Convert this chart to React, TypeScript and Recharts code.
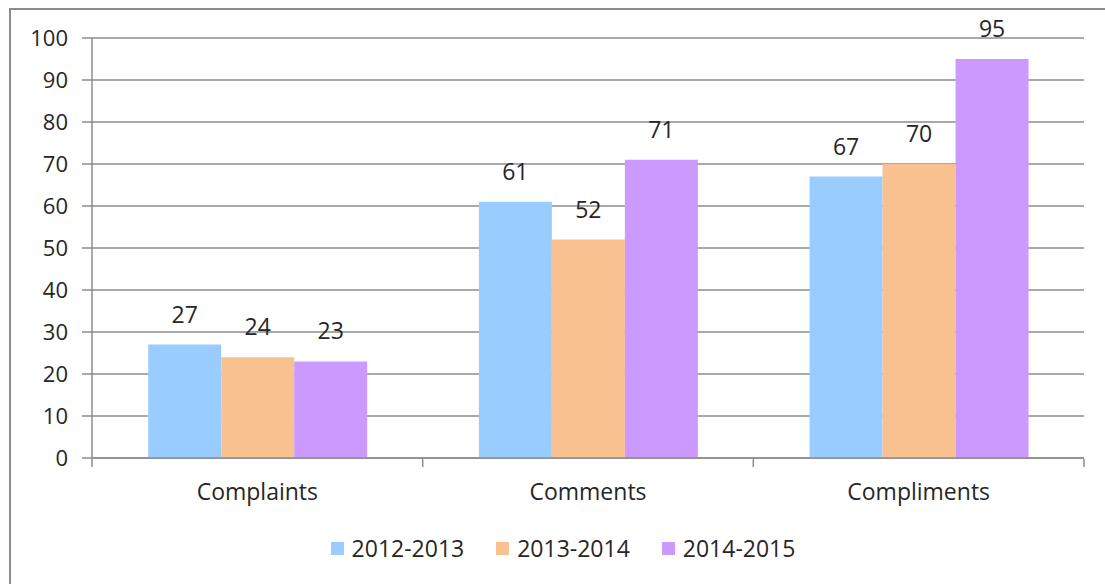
import { Bar, BarChart, CartesianGrid, LabelList, Legend, XAxis, YAxis } from "recharts";

const categories = ["Complaints", "Comments", "Compliments"];
const seriesNames = ["2012-2013", "2013-2014", "2014-2015"];
const values2012 = [27, 61, 67];
const values2013 = [24, 52, 70];
const values2014 = [23, 71, 95];
const yTicks = [0, 10, 20, 30, 40, 50, 60, 70, 80, 90, 100];
const edgeTicks = [0, 1, 2, 3];
const colors = ["#99CCFF", "#F9C090", "#CC99FF"];

const data = categories.map((name, i) => ({
  name,
  edge: i,
  [seriesNames[0]]: values2012[i],
  [seriesNames[1]]: values2013[i],
  [seriesNames[2]]: values2014[i],
}));

const FONT = "'Open Sans', 'Liberation Sans', sans-serif";
const GRID = "#8c8c8c";
const TEXT = "#262626";

function LegendRow() {
  return (
    <div style={{ display: "flex", justifyContent: "center", alignItems: "center", height: 30, paddingLeft: 42, fontFamily: FONT, fontSize: 23, color: TEXT }}>
      {seriesNames.map((s, i) => (
        <div key={s} style={{ display: "flex", alignItems: "center", marginLeft: i === 0 ? 0 : 32 }}>
          <span style={{ width: 13, height: 13, background: colors[i], display: "inline-block", marginRight: 8 }} />
          <span>{s}</span>
        </div>
      ))}
    </div>
  );
}

export default function App() {
  return (
    <div style={{ position: "absolute", left: 0, top: 0, width: 1105, height: 584, overflow: "hidden", background: "#fff" }}>
      <div style={{ position: "absolute", left: 9, top: 8, width: 1200, height: 700, borderTop: `2px solid ${GRID}`, borderLeft: `2px solid ${GRID}` }} />
      <div style={{ position: "absolute", left: 0, top: 0 }}>
        <BarChart width={1105} height={584} data={data} margin={{ top: 38, right: 21, bottom: 21, left: 0 }} barCategoryGap="17%" barGap={0}>
          <CartesianGrid vertical={false} stroke={GRID} strokeWidth={1.5} />
          <XAxis
            dataKey="name"
            height={1}
            tickLine={false}
            tickSize={0}
            tickMargin={26}
            axisLine={{ stroke: GRID, strokeWidth: 1.5 }}
            tick={{ fill: TEXT, fontSize: 23, fontFamily: FONT }}
          />
          <XAxis
            xAxisId="edges"
            dataKey="edge"
            type="number"
            domain={[0, 3]}
            ticks={edgeTicks}
            interval={0}
            height={74}
            axisLine={false}
            tickSize={8}
            tickFormatter={() => ""}
            tickLine={{ stroke: GRID, strokeWidth: 1.5 }}
          />
          <YAxis
            width={92}
            domain={[0, 100]}
            ticks={yTicks}
            interval={0}
            tickSize={10}
            tickMargin={14}
            axisLine={{ stroke: GRID, strokeWidth: 1.5 }}
            tickLine={{ stroke: GRID, strokeWidth: 1.5 }}
            tick={{ fill: TEXT, fontSize: 22, fontFamily: FONT }}
          />
          <Legend verticalAlign="bottom" content={() => <LegendRow />} />
          {seriesNames.map((s, i) => (
            <Bar key={s} dataKey={s} fill={colors[i]} isAnimationActive={false}>
              <LabelList dataKey={s} position="top" offset={22} style={{ fill: TEXT, fontSize: 23, fontFamily: FONT }} />
            </Bar>
          ))}
        </BarChart>
      </div>
    </div>
  );
}
